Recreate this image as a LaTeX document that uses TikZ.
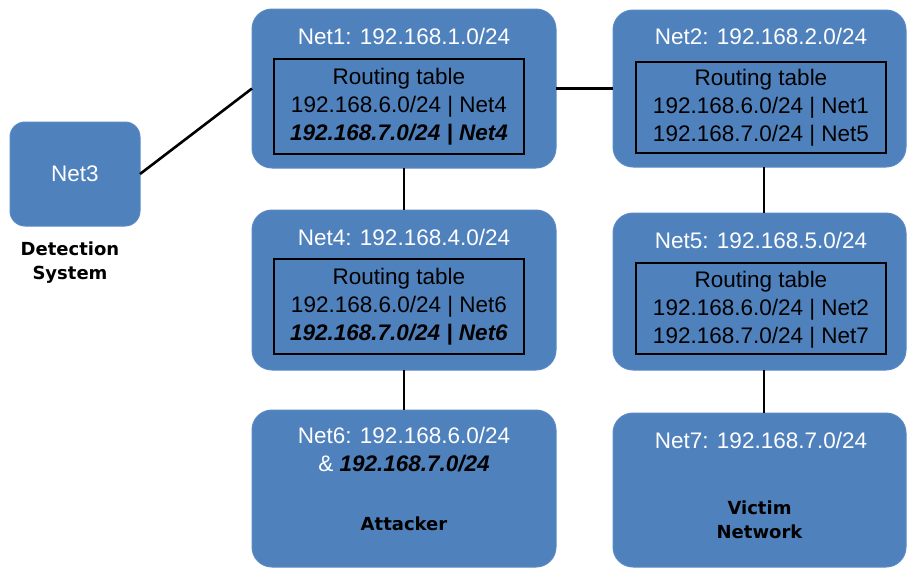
\documentclass[tikz,border=0pt]{standalone}
\usepackage{fontspec}
\setmainfont{Liberation Sans}
\newfontfamily\labelfont{DejaVu Sans}
\usetikzlibrary{calc}
\definecolor{netblue}{HTML}{4F81BD}
\definecolor{netedge}{HTML}{5A8AC6}
\begin{document}
\begin{tikzpicture}[x=1pt,y=-1pt,
  netbox/.style={draw=netedge, fill=netblue, line width=1pt, inner sep=0pt, outer sep=0pt, rounded corners=20pt},
  rtbox/.style={draw=black, line width=1.3pt, inner sep=0pt, outer sep=0pt},
  rttext/.style={font=\fontsize{22.5}{28}\selectfont, align=center, text=black, inner sep=0pt},
  titletext/.style={font=\fontsize{22.5}{28}\selectfont, align=center, text=white, inner sep=0pt},
  roletext/.style={font=\labelfont\fontsize{18}{24}\selectfont\bfseries, align=center, text=black, inner sep=0pt},
  link/.style={draw=black, line width=2.6pt}
]
\useasboundingbox (0,0) rectangle (908,568);

% outer boxes
\node[netbox, rounded corners=15pt, minimum width=130pt, minimum height=104pt] (net3) at (75,174) {};
\node[netbox, minimum width=304pt, minimum height=159pt] (net1) at (404,88.5) {};
\node[netbox, minimum width=293pt, minimum height=157pt] (net2) at (759.5,88.5) {};
\node[netbox, minimum width=304pt, minimum height=160pt] (net4) at (404,290) {};
\node[netbox, minimum width=293pt, minimum height=157pt] (net5) at (759.5,291.5) {};
\node[netbox, minimum width=304pt, minimum height=157pt] (net6) at (404,488.5) {};
\node[netbox, minimum width=293pt, minimum height=154pt] (net7) at (759.5,490) {};

% connectors
\draw[link] (net3.east) -- (net1.west);
\draw[link] (net1.east) -- (net2.west);
\draw[link] (net1.south) -- (net4.north);
\draw[link] (net4.south) -- (net6.north);
\draw[link] ([xshift=4.5pt]net2.south) -- ([xshift=4.5pt]net5.north);
\draw[link] ([xshift=4.5pt]net5.south) -- ([xshift=4.5pt]net7.north);

% Net3
\node[titletext] (net3t) at (75,174) {Net3};
\node[roletext] (detsys) at (70,263) {Detection\\System};

% Net1
\node[titletext] (net1t) at (404,36) {Net1: 192.168.1.0/24};
\node[rtbox, minimum width=250pt, minimum height=95pt] (rt1) at (399,106.5) {};
\node[rttext] (rt1t) at (399,107) {Routing table\\192.168.6.0/24 | Net4\\\textbf{\textit{192.168.7.0/24 | Net4}}};

% Net2
\node[titletext] (net2t) at (761,36) {Net2: 192.168.2.0/24};
\node[rtbox, minimum width=250pt, minimum height=91pt] (rt2) at (761,107.5) {};
\node[rttext] (rt2t) at (761,108) {Routing table\\192.168.6.0/24 | Net1\\192.168.7.0/24 | Net5};

% Net4
\node[titletext] (net4t) at (404,237) {Net4: 192.168.4.0/24};
\node[rtbox, minimum width=250pt, minimum height=95pt] (rt4) at (399,306.5) {};
\node[rttext] (rt4t) at (399,307) {Routing table\\192.168.6.0/24 | Net6\\\textbf{\textit{192.168.7.0/24 | Net6}}};

% Net5
\node[titletext] (net5t) at (761,240) {Net5: 192.168.5.0/24};
\node[rtbox, minimum width=250pt, minimum height=91pt] (rt5) at (761,308.5) {};
\node[rttext] (rt5t) at (761,309.5) {Routing table\\192.168.6.0/24 | Net2\\192.168.7.0/24 | Net7};

% Net6
\node[titletext] (net6t) at (404,450) {Net6: 192.168.6.0/24\\\& \textcolor{black}{\textbf{\textit{192.168.7.0/24}}}};
\node[roletext] (attacker) at (404,524) {Attacker};

% Net7
\node[titletext] (net7t) at (761,440) {Net7: 192.168.7.0/24};
\node[roletext] (victim) at (759.5,520) {Victim\\Network};
\end{tikzpicture}
\end{document}
